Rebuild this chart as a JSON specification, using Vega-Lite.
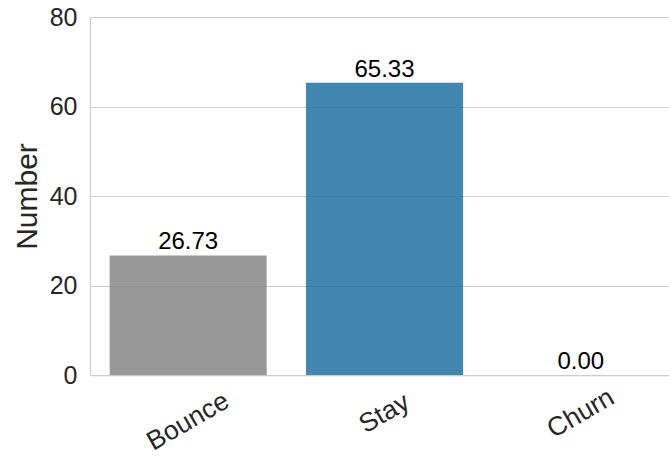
{
  "$schema": "https://vega.github.io/schema/vega-lite/v6.json",
  "autosize": {"type": "none"},
  "padding": {"left": 90, "top": 17, "right": 0, "bottom": 82},
  "width": 579,
  "height": 358,
  "background": "white",
  "config": {
    "view": {"stroke": null},
    "font": "Liberation Sans",
    "axis": {
      "labelFont": "Liberation Sans",
      "titleFont": "Liberation Sans",
      "labelColor": "#262626",
      "titleColor": "#262626",
      "domainColor": "#cccccc",
      "domainWidth": 1.25,
      "gridColor": "#cccccc",
      "gridWidth": 1,
      "ticks": false
    }
  },
  "data": {
    "values": [
      {"category": "Bounce", "value": 26.73, "color": "#808080"},
      {"category": "Stay", "value": 65.33, "color": "#13699c"},
      {"category": "Churn", "value": 0.0, "color": "#808080"}
    ]
  },
  "encoding": {
    "x": {
      "field": "category",
      "type": "nominal",
      "sort": null,
      "scale": {"range": [0, 589], "paddingInner": 0.2, "paddingOuter": 0.1},
      "axis": {
        "title": null,
        "grid": false,
        "labelAngle": -30,
        "labelAlign": "center",
        "labelBaseline": "middle",
        "labelFontSize": 26.5,
        "labelPadding": {"condition": {"test": "datum.value === 'Bounce'", "value": 46}, "value": 38}
      }
    },
    "y": {
      "field": "value",
      "type": "quantitative",
      "scale": {"domain": [0, 80], "nice": false},
      "axis": {
        "title": "Number",
        "values": [0, 20, 40, 60, 80],
        "labelFontSize": 25,
        "labelPadding": 13,
        "titleFontSize": 30,
        "titleFontWeight": "normal",
        "titlePadding": 7,
        "grid": true
      }
    }
  },
  "layer": [
    {
      "mark": {"type": "bar", "opacity": 0.8},
      "encoding": {
        "color": {"field": "color", "type": "nominal", "scale": null}
      }
    },
    {
      "mark": {"type": "text", "baseline": "alphabetic", "dy": -6, "fontSize": 24, "color": "black"},
      "encoding": {
        "text": {"field": "value", "type": "quantitative", "format": ".2f"}
      }
    }
  ]
}
